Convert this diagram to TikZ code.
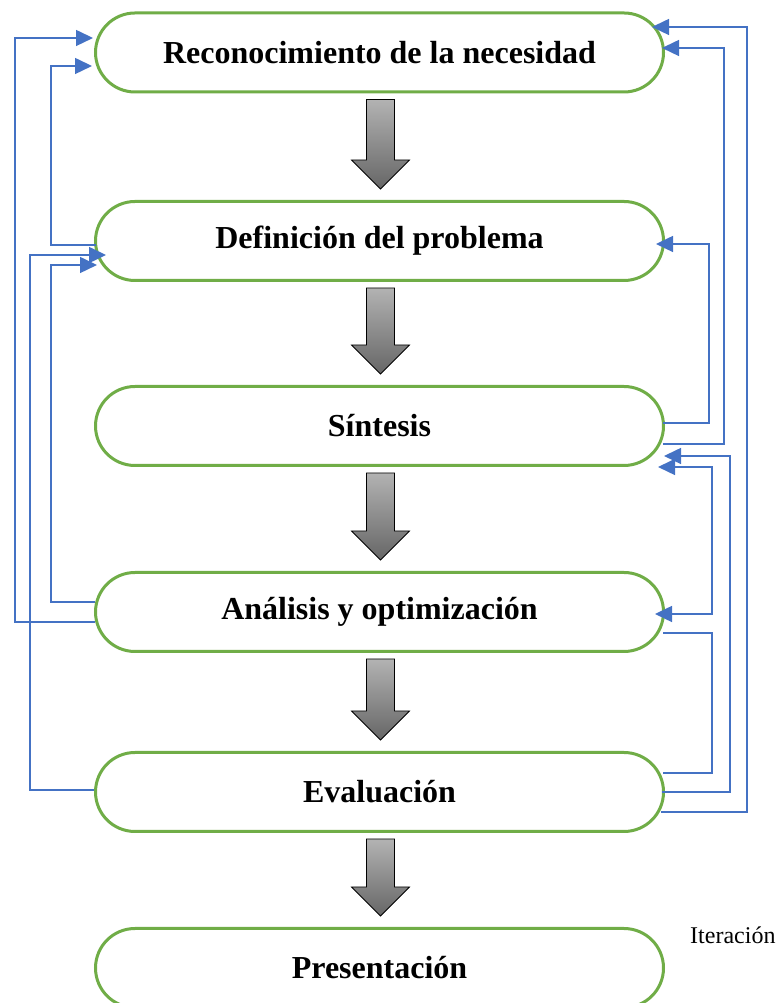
\documentclass[tikz,border=0pt]{standalone}
\usepackage{fontspec}
\setmainfont{Liberation Serif}
\usetikzlibrary{arrows.meta,calc}
\definecolor{verde}{HTML}{70AD47}
\definecolor{azul}{HTML}{4472C4}

\begin{document}
\begin{tikzpicture}[x=1pt,y=1pt,
  etapa/.style={draw=verde,line width=3pt,rounded corners=39.5pt,fill=white,
    minimum width=568pt,minimum height=79pt,inner sep=0pt,
    font=\fontsize{32}{38}\selectfont\bfseries},
  flecha/.style={draw=black,line width=0.8pt,top color=black!30,bottom color=black!60},
  punta/.tip={Triangle[length=17pt,width=16pt]},
  iter/.style={draw=azul,line width=1.5pt},
  iterflecha/.style={iter,-punta}]
\useasboundingbox (0,0) rectangle (776,1003);
\clip (0,0) rectangle (776,1003);

\node[etapa] (rec) at (379.5,950.5) {Reconocimiento de la necesidad};
\node[etapa] (def) at (379.5,762) {Definición del problema};
\node[etapa] (sin) at (379.5,577) {Síntesis};
\node[etapa] (ana) at (379.5,391) {Análisis y optimización};
\node[etapa] (eva) at (379.5,211) {Evaluación};
\node[etapa] (pre) at (379.5,35) {Presentación};

\node[anchor=base west,inner sep=0pt,font=\fontsize{24}{28}\selectfont]
  (etiqueta) at (690,59) {Iteración};

% flechas grises entre etapas
\foreach \a/\b in {rec/def,def/sin,sin/ana,ana/eva,eva/pre}
  \draw[flecha] ($(\a.south)+(-13,-6)$) -- ($(\a.south)+(15,-6)$)
    -- ($(\b.north)+(15,40)$) -- ($(\b.north)+(30,40)$) -- ($(\b.north)+(1,11)$)
    -- ($(\b.north)+(-28,40)$) -- ($(\b.north)+(-13,40)$) -- cycle;

% lazos de iteracion, lado izquierdo
\draw[iterflecha] ($(ana.west)+(1,-10)$) -| ($(rec.west)+(-79,14.5)$) -- ($(rec.west)+(-1,14.5)$);
\draw[iterflecha] ($(def.west)+(2,-4)$) -| ($(rec.west)+(-43,-13.5)$) -- ($(rec.west)+(-2,-13.5)$);
\draw[iterflecha] ($(eva.west)+(0,2)$) -| ($(def.west)+(-64,-14)$) -- ($(def.west)+(12,-14)$);
\draw[iterflecha] ($(ana.west)+(1,10)$) -| ($(def.west)+(-43,-24)$) -- ($(def.west)+(3,-24)$);

% lazos de iteracion, lado derecho
\draw[iterflecha] ($(eva.east)+(-4,-20)$) -| ($(rec.east)+(82,25.5)$) -- ($(rec.east)+(-13,25.5)$);
\draw[iterflecha] ($(sin.east)+(-2,-18)$) -| ($(rec.east)+(59,4.5)$) -- ($(rec.east)+(-3,4.5)$);
\draw[iterflecha] ($(sin.east)+(-2,3)$) -| ($(def.east)+(44,-3)$) -- ($(def.east)+(-9,-3)$);
\draw[iterflecha] ($(eva.east)+(-3,0)$) -| ($(sin.east)+(65,-30)$) -- ($(sin.east)+(-1,-30)$);
\draw[iter,punta-punta] ($(ana.east)+(-10,-2)$) -| ($(sin.east)+(47,-41)$) -- ($(sin.east)+(-7,-41)$);
\draw[iter] ($(eva.east)+(-2,19)$) -| ($(ana.east)+(47,-21)$) -- ($(ana.east)+(-2,-21)$);
\end{tikzpicture}
\end{document}
